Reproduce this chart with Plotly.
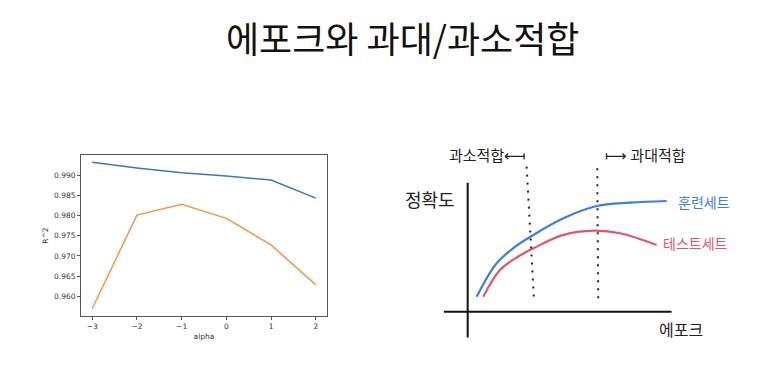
import plotly.graph_objects as go

W, H = 774, 371

# Left chart data (matplotlib-style R^2 vs alpha)
alpha = [-3, -2, -1, 0, 1, 2]
train_r2 = [0.9932, 0.9918, 0.9906, 0.9898, 0.9888, 0.9843]
test_r2 = [0.9569, 0.9801, 0.9828, 0.9793, 0.9727, 0.9628]
y_ticks = [0.960, 0.965, 0.970, 0.975, 0.980, 0.985, 0.990]

# Right sketch data (abstract epoch vs accuracy)
sk_epoch_train = [0.44, 1.42, 2.3, 3.14, 4.69, 6.32, 7.96, 9.75]
sk_acc_train = [0.116, 0.375, 0.50, 0.587, 0.724, 0.819, 0.845, 0.858]
sk_epoch_test = [0.76, 1.58, 2.4, 3.22, 4.69, 6.16, 7.47, 9.26]
sk_acc_test = [0.116, 0.323, 0.42, 0.491, 0.595, 0.628, 0.608, 0.517]
under_line_x = [2.89, 3.25]
under_line_y = [1.124, 0.091]
over_line_x = [6.35, 6.40]
over_line_y = [1.112, 0.078]
axis_h_x = [-1.16, 10.0]
axis_h_y = [0.0, 0.0]
axis_v_x = [0.0, 0.0]
axis_v_y = [-0.2, 1.0]

fig = go.Figure()

# left chart
fig.add_trace(go.Scatter(x=alpha, y=train_r2, mode="lines",
                         line=dict(color="#3d78ad", width=1.5),
                         xaxis="x", yaxis="y", showlegend=False))
fig.add_trace(go.Scatter(x=alpha, y=test_r2, mode="lines",
                         line=dict(color="#f2944c", width=1.5),
                         xaxis="x", yaxis="y", showlegend=False))

# right sketch
for xs, ys in [(axis_h_x, axis_h_y), (axis_v_x, axis_v_y)]:
    fig.add_trace(go.Scatter(x=xs, y=ys, mode="lines",
                             line=dict(color="#111111", width=2),
                             xaxis="x2", yaxis="y2", showlegend=False))
fig.add_trace(go.Scatter(x=sk_epoch_train, y=sk_acc_train, mode="lines",
                         line=dict(color="#3f7fd9", width=2.2, shape="spline", smoothing=1.0),
                         xaxis="x2", yaxis="y2", showlegend=False))
fig.add_trace(go.Scatter(x=sk_epoch_test, y=sk_acc_test, mode="lines",
                         line=dict(color="#e0566b", width=2.2, shape="spline", smoothing=1.0),
                         xaxis="x2", yaxis="y2", showlegend=False))
for xs, ys in [(under_line_x, under_line_y), (over_line_x, over_line_y)]:
    fig.add_trace(go.Scatter(x=xs, y=ys, mode="lines",
                             line=dict(color="#222222", width=2, dash="2px,6px"),
                             xaxis="x2", yaxis="y2", showlegend=False))

tickfont = dict(family="DejaVu Sans", size=7.5, color="#333333")

fig.update_layout(
    width=W, height=H,
    margin=dict(l=0, r=0, t=0, b=0),
    paper_bgcolor="white", plot_bgcolor="white",
    xaxis=dict(domain=[81 / W, 327 / W], anchor="y", range=[-3.25, 2.25],
               tickvals=alpha, ticks="outside", ticklen=3, tickcolor="#555",
               showline=True, linecolor="#555", linewidth=1, mirror=True,
               showgrid=False, zeroline=False, tickfont=tickfont,
               title=dict(text="alpha", font=dict(family="DejaVu Sans", size=7.5, color="#333"), standoff=3)),
    yaxis=dict(domain=[1 - 316 / H, 1 - 155 / H], anchor="x", range=[0.9551, 0.9950],
               tickvals=y_ticks, tickformat=".3f", ticks="outside", ticklen=3, tickcolor="#555",
               showline=True, linecolor="#555", linewidth=1, mirror=True,
               showgrid=False, zeroline=False, tickfont=tickfont,
               title=dict(text="R^2", font=dict(family="DejaVu Sans", size=7.5, color="#333"), standoff=4)),
    xaxis2=dict(domain=[443.2 / W, 671.7 / W], anchor="y2", range=[-1.2, 10.0], visible=False),
    yaxis2=dict(domain=[1 - 338.8 / H, 1 - 165.9 / H], anchor="x2", range=[-0.21, 1.13], visible=False),
)

hand = "Noto Sans CJK KR"
anns = [
    dict(text="에포크와 과대/과소적합", x=403, y=37, size=36, color="#111111", family="Noto Sans CJK KR"),
    dict(text="과소적합⟻", x=487, y=154, size=15, color="#222222", family=hand),
    dict(text="⟼ 과대적합", x=645, y=154, size=15, color="#222222", family=hand),
    dict(text="정확도", x=430, y=199, size=18, color="#222222", family=hand),
    dict(text="훈련세트", x=704, y=202, size=14, color="#3f7fd9", family=hand),
    dict(text="테스트세트", x=695, y=243, size=14, color="#e0566b", family=hand),
    dict(text="에포크", x=681, y=329, size=16, color="#222222", family=hand),
]
for a in anns:
    fig.add_annotation(text=a["text"], xref="paper", yref="paper",
                       x=a["x"] / W, y=1 - a["y"] / H, xanchor="center", yanchor="middle",
                       showarrow=False,
                       font=dict(family=a["family"], size=a["size"], color=a["color"]))

fig.write_html("out.html")
